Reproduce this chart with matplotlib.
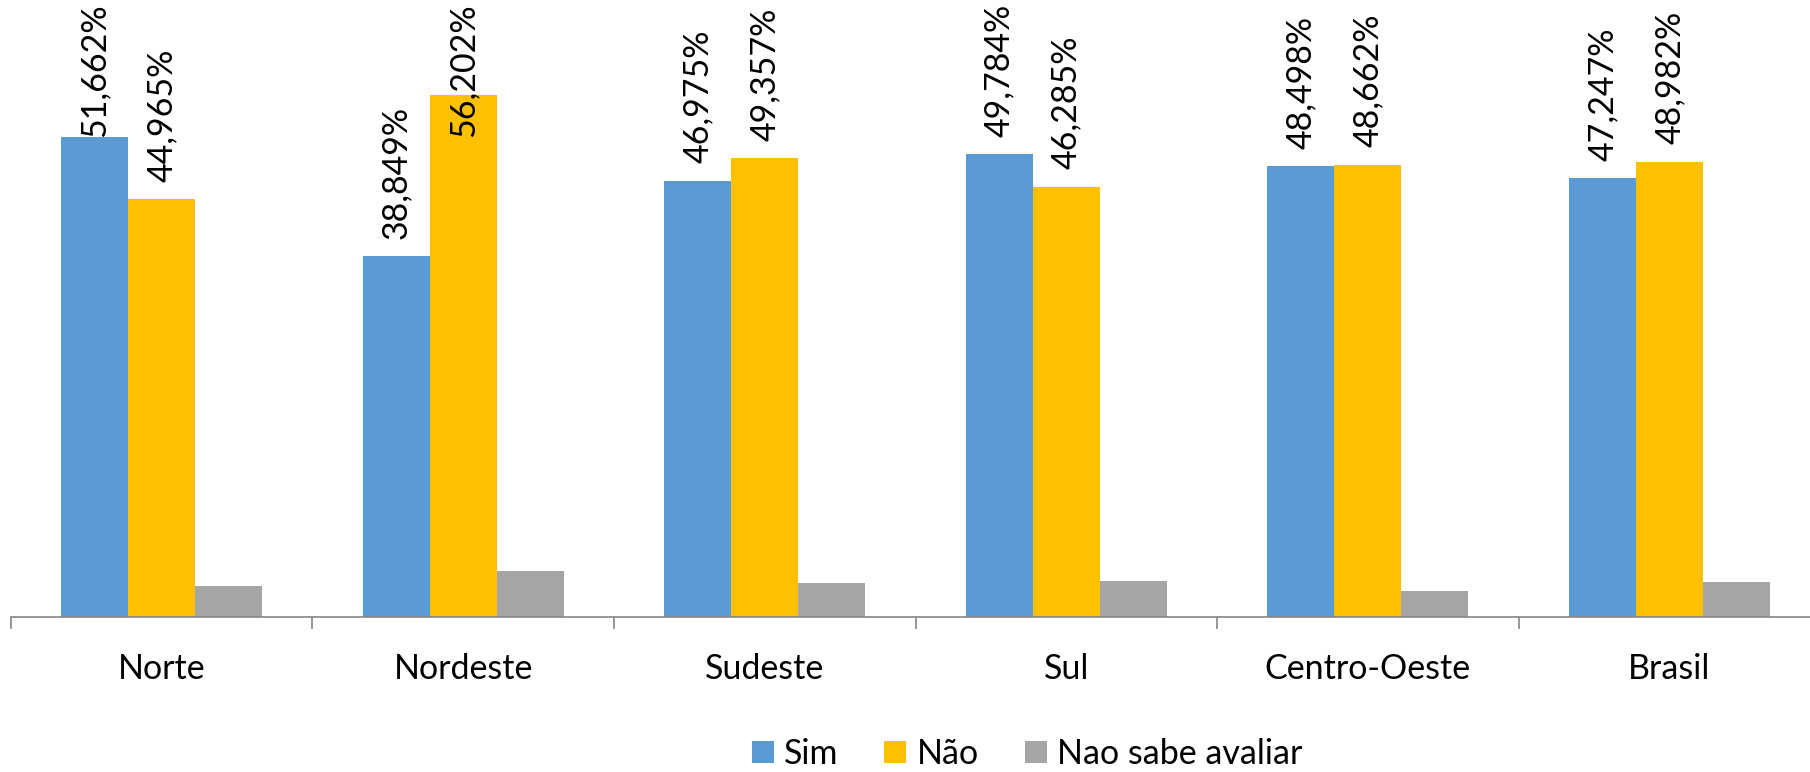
import matplotlib
matplotlib.use("Agg")
import matplotlib.pyplot as plt
import numpy as np

categories = ["Norte", "Nordeste", "Sudeste", "Sul", "Centro-Oeste", "Brasil"]
sim = [51.662, 38.849, 46.975, 49.784, 48.498, 47.247]
nao = [44.965, 56.202, 49.357, 46.285, 48.662, 48.982]
nao_sabe = [3.373, 4.949, 3.668, 3.931, 2.840, 3.771]
series_names = ["Sim", "Não", "Nao sabe avaliar"]
colors = ["#5B9BD5", "#FFC000", "#A5A5A5"]

plt.rcParams['font.family'] = ['Lato', 'DejaVu Sans']

W, H = 1810, 772
fig = plt.figure(figsize=(W / 100, H / 100), dpi=100)

# axes placement (pixels)
x0_px = 10.7
cat_w_px = 301.6
base_px = 617.3
px_per_unit = 9.297
ymax = 60
ax = fig.add_axes([x0_px / W, (H - base_px) / H,
                   cat_w_px * len(categories) / W,
                   ymax * px_per_unit / H])

n = len(categories)
x = np.arange(n)
bw = 0.222
all_series = [sim, nao, nao_sabe]
for i, (vals, c, name) in enumerate(zip(all_series, colors, series_names)):
    ax.bar(x + (i - 1) * bw, vals, width=bw, color=c, label=name, linewidth=0)

gap = 17.5 / px_per_unit
cap = 51.66
fs = 24.5
for i, vals in enumerate(all_series[:2]):
    for xi, v in zip(x, vals):
        s = f"{v:.3f}%".replace(".", ",")
        ax.text(xi + (i - 1) * bw, min(v + gap, cap), s, rotation=90,
                ha='center', va='bottom', fontsize=fs, color='black', clip_on=False)

ax.set_xlim(-0.5, n - 0.5)
ax.set_ylim(0, ymax)
for s in ['top', 'right', 'left']:
    ax.spines[s].set_visible(False)
ax.spines['bottom'].set_color('#868686')
ax.spines['bottom'].set_linewidth(1.2)
ax.set_yticks([])

ax.set_xticks(np.arange(n + 1) - 0.5)
ax.set_xticklabels([])
ax.tick_params(axis='x', which='major', length=8.6, width=1.2, color='#868686', direction='out')
ax.set_xticks(x, minor=True)
ax.set_xticklabels(categories, minor=True, fontsize=fs)
ax.tick_params(axis='x', which='minor', length=0, pad=26)

fig.legend(loc='center', bbox_to_anchor=(1027 / W, 18 / H), ncol=3, frameon=False,
           fontsize=fs, handlelength=0.65, handleheight=0.62, handletextpad=0.3,
           columnspacing=1.35, borderpad=0, borderaxespad=0)

fig.savefig("out.png", dpi=100)
